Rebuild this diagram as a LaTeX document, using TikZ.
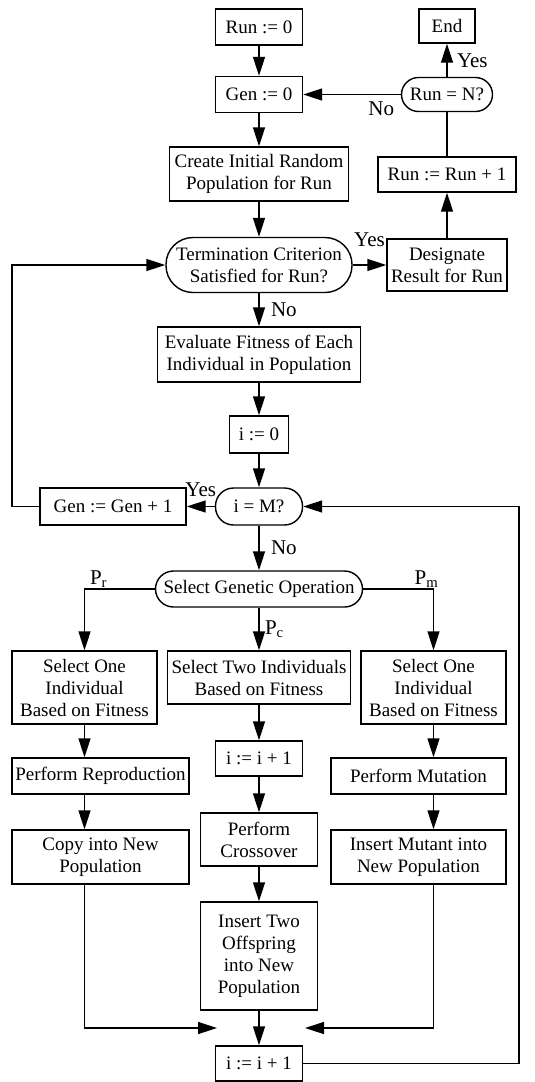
\documentclass[tikz,border=0pt]{standalone}
\usepackage{fontspec}
\setmainfont{Liberation Serif}
\usetikzlibrary{arrows.meta}

\begin{document}
\begin{tikzpicture}[x=1pt,y=-1pt,line width=1.4pt,font=\fontsize{21}{23}\selectfont,
  box/.style={draw,fill=white,align=center,inner sep=0pt,font=\fontsize{19}{22}\selectfont},
  oval/.style={box,rounded corners=#1},
  >={Triangle[length=19pt,width=12pt]}]
\useasboundingbox (0,0) rectangle (535,1082);
\node [box,minimum width=87pt,minimum height=36pt] (run0) at (259,27) {Run := 0};
\node [box,minimum width=56pt,minimum height=34pt] (end) at (447,26) {End};
\node [box,minimum width=87pt,minimum height=36pt] (gen0) at (259,94.5) {Gen := 0};
\node [oval=17pt,minimum width=91pt,minimum height=34pt] (runq) at (447,94.5) {Run = N?};
\node [box,minimum width=179pt,minimum height=54pt] (init) at (259,174) {Create Initial Random\\Population for Run};
\node [box,minimum width=138pt,minimum height=35pt] (runinc) at (447,174.5) {Run := Run + 1};
\node [oval=27pt,minimum width=186pt,minimum height=55pt] (term) at (259,265) {Termination Criterion\\Satisfied for Run?};
\node [box,minimum width=120pt,minimum height=52pt] (desig) at (447,265) {Designate\\Result for Run};
\node [box,minimum width=203pt,minimum height=55pt] (eval) at (259,354.5) {Evaluate Fitness of Each\\Individual in Population};
\node [box,minimum width=59pt,minimum height=37pt] (i0) at (259,434.5) {i := 0};
\node [oval=18pt,minimum width=87pt,minimum height=37pt] (im) at (259,506.5) {i = M?};
\node [box,minimum width=146pt,minimum height=37pt] (geninc) at (113,506.5) {Gen := Gen + 1};
\node [oval=18pt,minimum width=207pt,minimum height=36pt] (sel) at (259,589) {Select Genetic Operation};
\node [box,minimum width=145pt,minimum height=73pt] (selr) at (84.5,687.5) {Select One\\Individual\\Based on Fitness};
\node [box,minimum width=183pt,minimum height=53pt] (selc) at (259,677.5) {Select Two Individuals\\Based on Fitness};
\node [box,minimum width=145pt,minimum height=73pt] (selm) at (433.5,687.5) {Select One\\Individual\\Based on Fitness};
\node [box,minimum width=87pt,minimum height=35pt] (iinc1) at (259,758.5) {i := i + 1};
\node [box,minimum width=177pt,minimum height=36pt] (repro) at (100.5,776) {Perform Reproduction};
\node [box,minimum width=175pt,minimum height=36pt] (mut) at (418.5,776) {Perform Mutation};
\node [box,minimum width=177pt,minimum height=54pt] (copy) at (100.5,857) {Copy into New\\Population};
\node [box,minimum width=117pt,minimum height=53pt] (cross) at (259,839.5) {Perform\\Crossover};
\node [box,minimum width=175pt,minimum height=54pt] (insm) at (418.5,857) {Insert Mutant into\\New Population};
\node [box,minimum width=117pt,minimum height=108pt] (ins2) at (259,956) {Insert Two\\Offspring\\into New\\Population};
\node [box,minimum width=87pt,minimum height=35pt] (iinc2) at (259,1063.5) {i := i + 1};
\coordinate (ll) at (12,506.5);
\coordinate (rr) at (519,1063.5);
\coordinate (jl) at (217,1028);
\coordinate (jr) at (305,1028);
\draw [->] (run0) -- (gen0);
\draw [->] (gen0) -- (init);
\draw [->] (init) -- (term);
\draw [->] (term) -- node [midway,above=14pt] {Yes} (desig);
\draw [->] (desig) -- (runinc);
\draw (runinc) -- (runq);
\draw [->] (runq) -- node [midway,right=6pt] {Yes} (end);
\draw [->] (runq) -- node [pos=0.2,below=3pt] {No} (gen0);
\draw [->] (term) -- node [midway,right=8pt] {No} (eval);
\draw [->] (eval) -- (i0);
\draw [->] (i0) -- (im);
\draw [->] (im) -- node [midway,above=6pt] {Yes} (geninc);
\draw [->] (geninc) -- (ll) |- (term);
\draw [->] (im) -- node [midway,right=8pt] {No} (sel);
\draw [->] (sel) -- node [midway,right=2pt] {P\textsubscript{c}} (selc);
\draw [->] (sel.west) -| node [pos=0.4,above,inner sep=1pt] {P\textsubscript{r}} (selr);
\draw [->] (sel.east) -| node [pos=0.45,above,inner sep=1pt] {P\textsubscript{m}} (selm);
\draw [->] (selr) -- (selr |- repro.north);
\draw [->] (repro.south -| selr) -- (copy.north -| selr);
\draw [->] (copy.south -| selr) |- (jl);
\draw [->] (selm) -- (selm |- mut.north);
\draw [->] (mut.south -| selm) -- (insm.north -| selm);
\draw [->] (insm.south -| selm) |- (jr);
\draw [->] (selc) -- (iinc1);
\draw [->] (iinc1) -- (cross);
\draw [->] (cross) -- (ins2);
\draw [->] (ins2) -- (iinc2);
\draw [->] (iinc2) -- (rr) |- (im);
\end{tikzpicture}
\end{document}
